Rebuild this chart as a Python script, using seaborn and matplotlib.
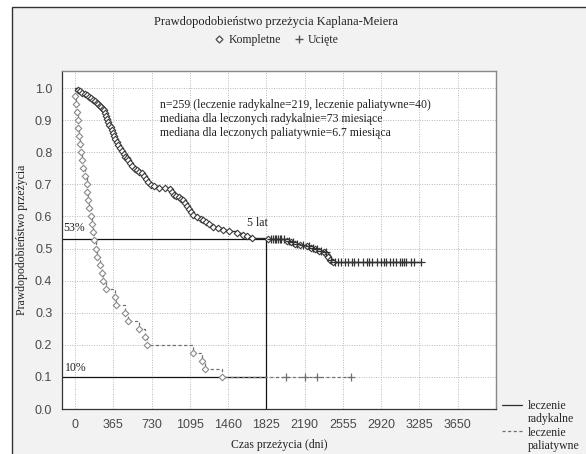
import numpy as np
import pandas as pd
import matplotlib
matplotlib.use("Agg")
import matplotlib.pyplot as plt
from matplotlib.lines import Line2D
from matplotlib.patches import Rectangle
import seaborn as sns

# ---------------- data ----------------
# leczenie radykalne (n=219): event times [days] and survival after each event
rad_event_t = [30, 50, 70, 90, 111, 130, 150, 170, 191, 205, 220, 235, 250, 262,
               275, 285, 295, 305, 318, 328, 338, 348, 358, 372, 385, 398, 412,
               429, 445, 462, 478, 495, 508, 525, 545, 570, 590, 610, 635, 660,
               680, 700, 720, 750, 800, 860, 905, 925, 945, 965, 990, 1010, 1032,
               1050, 1070, 1090, 1110, 1127, 1160, 1200, 1223, 1250, 1280, 1318,
               1360, 1413, 1470, 1541, 1600, 1640, 1684, 1842, 2020, 2060, 2100,
               2150, 2210, 2250, 2290, 2330, 2370, 2400, 2415, 2430, 2460]
rad_event_s = [0.995, 0.991, 0.986, 0.982, 0.977, 0.973, 0.968, 0.963, 0.959,
               0.954, 0.950, 0.945, 0.940, 0.936, 0.931, 0.922, 0.913, 0.904,
               0.895, 0.886, 0.877, 0.868, 0.859, 0.850, 0.840, 0.831, 0.822,
               0.813, 0.804, 0.795, 0.786, 0.781, 0.776, 0.767, 0.758, 0.749,
               0.744, 0.739, 0.734, 0.726, 0.717, 0.708, 0.699, 0.694, 0.690,
               0.688, 0.684, 0.676, 0.668, 0.663, 0.659, 0.655, 0.650, 0.641,
               0.632, 0.623, 0.614, 0.603, 0.598, 0.593, 0.589, 0.582, 0.575,
               0.568, 0.563, 0.558, 0.553, 0.547, 0.542, 0.538, 0.534, 0.529,
               0.522, 0.519, 0.515, 0.511, 0.507, 0.503, 0.498, 0.493, 0.488,
               0.480, 0.472, 0.464, 0.457]
rad_cens_t = [1870, 1890, 1905, 1920, 1935, 1950, 1965, 1990, 2040, 2080, 2120,
              2170, 2230, 2270, 2310, 2350, 2390, 2440, 2480, 2510, 2540, 2575,
              2600, 2640, 2665, 2700, 2745, 2780, 2800, 2830, 2880, 2920, 2950,
              2970, 3000, 3030, 3060, 3100, 3120, 3140, 3160, 3200, 3230, 3300]

# leczenie paliatywne (n=40)
pal_event_t = [2, 6, 16, 25, 32, 40, 48, 57, 70, 79, 95, 111, 117, 127, 136, 149,
               159, 168, 178, 195, 212, 235, 252, 266, 295, 385, 390, 475, 508,
               610, 665, 685, 1127, 1207, 1239, 1398]
pal_event_s = [0.975, 0.950, 0.925, 0.900, 0.875, 0.850, 0.825, 0.800, 0.775,
               0.750, 0.725, 0.700, 0.675, 0.650, 0.625, 0.600, 0.575, 0.550,
               0.525, 0.500, 0.475, 0.450, 0.425, 0.400, 0.375, 0.350, 0.325,
               0.300, 0.275, 0.250, 0.225, 0.200, 0.175, 0.150, 0.125, 0.100]
pal_cens_t = [2010, 2190, 2305, 2630]

x_ticks = [0, 365, 730, 1095, 1460, 1825, 2190, 2555, 2920, 3285, 3650]
y_ticks = [0.0, 0.1, 0.2, 0.3, 0.4, 0.5, 0.6, 0.7, 0.8, 0.9, 1.0]

title = "Prawdopodobieństwo przeżycia Kaplana-Meiera"
xlabel = "Czas przeżycia (dni)"
ylabel = "Prawdopodobieństwo przeżycia"
info = ("n=259 (leczenie radykalne=219, leczenie paliatywne=40)\n"
        "mediana dla leczonych radykalnie=73 miesiące\n"
        "mediana dla leczonych paliatywnie=6.7 miesiąca")
five_years = 1825
s53 = 0.53
s10 = 0.10


def step_frame(ev_t, ev_s, cens_t):
    t = [0] + list(ev_t) + [max(list(ev_t) + list(cens_t))]
    s = [1.0] + list(ev_s) + [ev_s[-1]]
    return pd.DataFrame({"t": t, "s": s})


def cens_frame(ev_t, ev_s, cens_t):
    idx = np.searchsorted(np.array(ev_t), np.array(cens_t), side="right") - 1
    s = [ev_s[i] if i >= 0 else 1.0 for i in idx]
    return pd.DataFrame({"t": cens_t, "s": s})


rad_line = step_frame(rad_event_t, rad_event_s, rad_cens_t)
pal_line = step_frame(pal_event_t, pal_event_s, pal_cens_t)
rad_ev = pd.DataFrame({"t": rad_event_t, "s": rad_event_s})
pal_ev = pd.DataFrame({"t": pal_event_t, "s": pal_event_s})
rad_c = cens_frame(rad_event_t, rad_event_s, rad_cens_t)
pal_c = cens_frame(pal_event_t, pal_event_s, pal_cens_t)

# ---------------- style ----------------
sns.set_theme(style="white")
plt.rcParams["font.family"] = ["Liberation Serif", "DejaVu Serif"]

W, H = 586, 454
fig = plt.figure(figsize=(W / 100, H / 100), dpi=100, facecolor="white")

# outer gray frame (screenshot panel)
fig.patches.append(Rectangle((12 / W, -0.05), 1.2, (H - 7) / H + 0.05,
                             transform=fig.transFigure, facecolor="#f1f2f1",
                             edgecolor="#333333", linewidth=1.0, zorder=-10))

ax = fig.add_axes([62 / W, (H - 409) / H, (496 - 62) / W, (409 - 71) / H])
ax.set_facecolor("white")

RAD_C = "#2e2e2e"
PAL_C = "#707070"

# lines
sns.lineplot(data=rad_line, x="t", y="s", ax=ax, drawstyle="steps-post",
             color=RAD_C, linewidth=1.0, estimator=None, sort=False, zorder=3)
sns.lineplot(data=pal_line, x="t", y="s", ax=ax, drawstyle="steps-post",
             color=PAL_C, linewidth=0.9, linestyle=(0, (2.5, 2)), estimator=None,
             sort=False, zorder=3)

# event markers (diamonds) and censored markers (+)
sns.scatterplot(data=pal_ev, x="t", y="s", ax=ax, marker="D", s=11,
                facecolor="white", edgecolor="#8a8a8a", linewidth=0.8, zorder=4)
sns.scatterplot(data=rad_ev, x="t", y="s", ax=ax, marker="D", s=11,
                facecolor="white", edgecolor="#3a3a3a", linewidth=0.8, zorder=5)
sns.scatterplot(data=pal_c, x="t", y="s", ax=ax, marker="+", s=40,
                color="#707070", linewidth=0.9, zorder=4)
sns.scatterplot(data=rad_c, x="t", y="s", ax=ax, marker="+", s=40,
                color="#333333", linewidth=0.9, zorder=5)

xmin, xmax = -125, 4015
ymin, ymax = 0.0, 1.053
ax.set_xlim(xmin, xmax)
ax.set_ylim(ymin, ymax)

# reference lines
ax.plot([xmin, five_years], [s53, s53], color="#111111", lw=0.9, zorder=2)
ax.plot([five_years, five_years], [ymin, s53], color="#111111", lw=0.9, zorder=2)
ax.plot([xmin, five_years], [s10, s10], color="#111111", lw=0.9, zorder=2)

ax.text(-115, 0.563, "53%", fontsize=8.5, ha="left", va="center", color="#222222")
ax.text(-95, 0.128, "10%", fontsize=8.5, ha="left", va="center", color="#222222")
ax.text(1640, 0.581, "5 lat", fontsize=8.5, ha="left", va="center", color="#222222")
ax.text(810, 0.904, info, fontsize=8.5, ha="left", va="center", color="#222222",
        linespacing=1.25)

# ticks and grid
ax.set_xticks(x_ticks)
ax.set_yticks(y_ticks)
ax.set_xticklabels([str(v) for v in x_ticks], family="Liberation Sans",
                   fontsize=9, color="#4a4a4a")
ax.set_yticklabels([f"{v:.1f}" for v in y_ticks], family="Liberation Sans",
                   fontsize=9, color="#4a4a4a")
ax.tick_params(axis="both", direction="out", length=4, width=0.8,
               color="#555555", pad=3)
ax.grid(True, linestyle=(0, (1, 1.5)), color="#b8b8b8", linewidth=0.7)
ax.set_axisbelow(True)
for side in ["left", "bottom"]:
    ax.spines[side].set_color("#333333")
    ax.spines[side].set_linewidth(0.9)
for side in ["top", "right"]:
    ax.spines[side].set_color("#888888")
    ax.spines[side].set_linewidth(1.0)

ax.set_xlabel(xlabel, fontsize=8.5, color="#222222", labelpad=6)
ax.set_ylabel(ylabel, fontsize=8.5, color="#222222", labelpad=5)

# title and marker legend
fig.text(276 / W, 1 - 22 / H, title, ha="center", va="center", fontsize=9,
         color="#222222")
mk_handles = [Line2D([], [], marker="D", linestyle="none", markersize=3.5,
                     markerfacecolor="white", markeredgecolor="#555555"),
              Line2D([], [], marker="+", linestyle="none", markersize=6,
                     markeredgecolor="#555555")]
fig.legend(mk_handles, ["Kompletne", "Ucięte"], loc="center",
           bbox_to_anchor=(276 / W, 1 - 40 / H), ncol=2, frameon=False,
           fontsize=8.5, handletextpad=0.3, columnspacing=1.0,
           handlelength=1.0)

# line legend (right bottom)
blank = Line2D([], [], linestyle="none")
ln_handles = [Line2D([], [], color=RAD_C, lw=0.9), blank,
              Line2D([], [], color=PAL_C, lw=0.9, linestyle=(0, (2.5, 2))), blank]
fig.legend(ln_handles, ["leczenie", "radykalne", "leczenie", "paliatywne"],
           loc="lower left", bbox_to_anchor=(502 / W, 2 / H),
           frameon=False, fontsize=8.5, handlelength=1.7,
           handletextpad=0.5, labelspacing=0.12, borderaxespad=0,
           borderpad=0)

fig.savefig("out.png", dpi=100, facecolor=fig.get_facecolor())
